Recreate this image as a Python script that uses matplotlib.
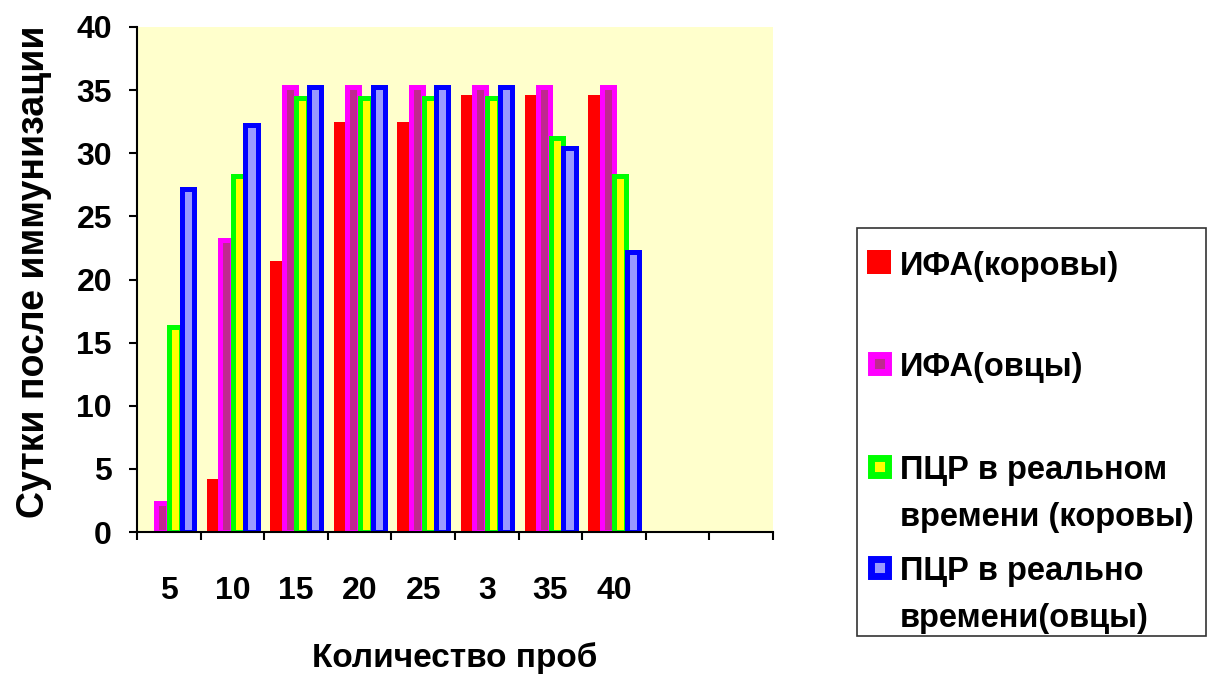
import numpy as np
import matplotlib
matplotlib.use('Agg')
import matplotlib.pyplot as plt
from matplotlib.patches import Rectangle

plt.rcParams['font.family'] = ['Liberation Sans', 'DejaVu Sans']
plt.rcParams['font.weight'] = 'bold'

# данные
categories = ['5', '10', '15', '20', '25', '3', '35', '40', '', '']
ifa_cows = [0, 4.2, 21.5, 32.5, 32.5, 34.6, 34.6, 34.6]
ifa_sheep = [2.3, 23.1, 35.25, 35.25, 35.25, 35.25, 35.25, 35.25]
pcr_cows = [16.2, 28.2, 34.4, 34.4, 34.4, 34.4, 31.2, 28.2]
pcr_sheep = [27.2, 32.2, 35.25, 35.25, 35.25, 35.25, 30.4, 22.2]

series_labels = ['ИФА(коровы)', 'ИФА(овцы)',
                 'ПЦР в реальном\nвремени (коровы)', 'ПЦР в реально\nвремени(овцы)']
series_values = [ifa_cows, ifa_sheep, pcr_cows, pcr_sheep]
edge_colors = ['none', '#FF00FF', '#00FF00', '#0000FF']
face_colors = ['#FF0000', '#C02890', '#FFFF00', '#9999FF']
line_widths = [0, 3.6, 3.6, 3.6]

W, H = 1209, 676
fig = plt.figure(figsize=(W / 100, H / 100), dpi=100)
ax = fig.add_axes([137 / W, 1 - 532 / H, (773 - 137) / W, (532 - 27) / H])
ax.set_facecolor('#FFFFCC')

offsets = [-0.31, -0.1, 0.1, 0.3]
bar_w = 0.19
for vals, off, ec, fc, lw in zip(series_values, offsets, edge_colors, face_colors, line_widths):
    x = np.arange(len(vals)) + 0.5 + off
    ax.bar(x, vals, width=bar_w, color=fc, edgecolor=ec, linewidth=lw, zorder=2)

ax.set_xlim(0, len(categories))
ax.set_ylim(0, 40)
ax.set_yticks(np.arange(0, 41, 5))

# деления на границах категорий, подписи по центру
ax.set_xticks(np.arange(0, len(categories) + 1))
ax.set_xticklabels([])
ax.set_xticks(np.arange(len(categories)) + 0.5, minor=True)
ax.set_xticklabels(categories, minor=True)
ax.tick_params(axis='x', which='major', direction='out', length=6, width=1.5)
ax.tick_params(axis='x', which='minor', length=0, pad=32, labelsize=23)
ax.tick_params(axis='y', direction='out', length=6, width=1.5, pad=12, labelsize=23)

for s in ['top', 'right']:
    ax.spines[s].set_visible(False)
for s in ['left', 'bottom']:
    ax.spines[s].set_linewidth(1.5)

ax.set_xlabel('Количество проб', fontsize=24, fontweight='bold')
ax.xaxis.set_label_coords(0.5, -0.218)
fig.text(34 / W, 1 - 272 / H, 'Сутки после иммунизации', rotation=90,
         ha='center', va='center', fontsize=27, fontweight='bold')

# легенда
fig.patches.append(Rectangle((857 / W, 1 - 636 / H), (1206 - 857) / W, (636 - 228) / H,
                             transform=fig.transFigure, facecolor='white',
                             edgecolor='#333333', linewidth=1.2))
swatch_centers = [262, 363, 466, 567]
for lab, yc, ec, fc in zip(series_labels, swatch_centers, edge_colors, face_colors):
    if ec == 'none':
        fig.patches.append(Rectangle((867 / W, 1 - (yc + 12) / H), 24 / W, 24 / H,
                                     transform=fig.transFigure, facecolor=fc, edgecolor='none'))
    else:
        fig.patches.append(Rectangle((870.5 / W, 1 - (yc + 8.5) / H), 17 / W, 17 / H,
                                     transform=fig.transFigure, facecolor=fc,
                                     edgecolor=ec, linewidth=5))
    fig.text(900 / W, 1 - (yc - 11) / H, lab, ha='left', va='top', fontsize=23.5,
             fontweight='bold', linespacing=1.68)

fig.savefig('out.png', dpi=100)
